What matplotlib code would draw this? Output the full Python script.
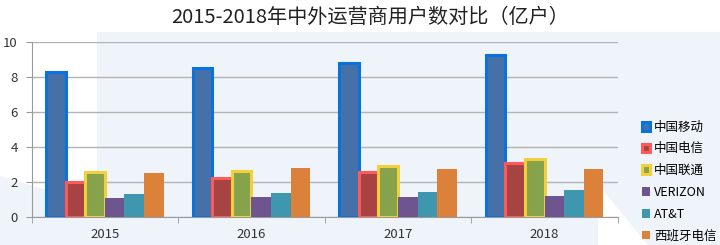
import matplotlib.pyplot as plt
import matplotlib.patches as mpatches
import matplotlib.ticker as mticker
import numpy as np

plt.rcParams['font.family'] = ['Noto Sans CJK SC', 'DejaVu Sans']

years = ['2015', '2016', '2017', '2018']
carriers = ['中国移动', '中国电信', '中国联通', 'VERIZON', 'AT&T', '西班牙电信']
cmcc = [8.3, 8.55, 8.8, 9.25]
ctel = [2.0, 2.23, 2.56, 3.1]
cuni = [2.58, 2.65, 2.9, 3.3]
verizon = [1.1, 1.15, 1.15, 1.16]
att = [1.3, 1.36, 1.42, 1.51]
telefonica = [2.48, 2.77, 2.71, 2.71]

series = [cmcc, ctel, cuni, verizon, att, telefonica]
faces = ['#4571a8', '#a84343', '#86a24a', '#6f5590', '#3e97ae', '#db8139']
edges = ['#0a72dc', '#ff5a5a', '#f2d03c', '#6f5590', '#3e97ae', '#db8139']
lws = [2.2, 2.2, 2.2, 0, 0, 0]

fig = plt.figure(figsize=(7.2, 2.45), dpi=100)
fig.patch.set_facecolor('white')

# light decorative background
bg = [
    [[0.135, 0.0], [0.135, 0.87], [0.83, 0.87], [0.83, 0.0]],
    [[0.0, 0.28], [0.0, 0.0], [0.32, 0.0]],
    [[0.83, 0.87], [0.83, 0.25], [0.9, 0.0], [1.0, 0.0], [1.0, 0.87]],
]
for poly in bg:
    fig.patches.append(mpatches.Polygon(poly, closed=True, transform=fig.transFigure,
                                        facecolor='#eff4fa', edgecolor='none', zorder=-5))

ax = fig.add_axes([0.044, 0.1155, 0.814, 0.7115])
ax.set_facecolor('none')
ax.set_zorder(2)

x = np.arange(len(years))
w = 0.8 / 6
for i, vals in enumerate(series):
    ax.bar(x - 0.4 + w * (i + 0.5), vals, w, color=faces[i], edgecolor=edges[i],
           linewidth=lws[i], label=carriers[i], zorder=3)

ax.set_xlim(-0.5, 3.5)
ax.set_ylim(0, 10)
ax.set_yticks([0, 2, 4, 6, 8, 10])
ax.yaxis.grid(True, color='#b3b3b3', linewidth=1.0, zorder=0)
ax.set_axisbelow(True)

ax.set_xticks(x)
ax.set_xticklabels(years)
ax.xaxis.set_minor_locator(mticker.FixedLocator([-0.5, 0.5, 1.5, 2.5, 3.5]))
ax.tick_params(axis='x', which='major', length=0, pad=8, labelsize=9.5, labelcolor='#333333')
ax.tick_params(axis='x', which='minor', length=4, color='#9a9a9a', direction='out')
ax.tick_params(axis='y', length=4, color='#9a9a9a', labelsize=9.5, labelcolor='#333333', pad=6)
for lbl in ax.get_xticklabels() + ax.get_yticklabels():
    lbl.set_fontweight('medium')

for s in ['top', 'right']:
    ax.spines[s].set_visible(False)
for s in ['left', 'bottom']:
    ax.spines[s].set_color('#9a9a9a')

fig.text(0.514, 0.928, '2015-2018年中外运营商用户数对比（亿户）', ha='center', va='center',
         fontsize=14.5, color='#222222')

leg = ax.legend(loc='upper left', bbox_to_anchor=(1.032, 0.58), frameon=False,
                prop={'size': 9, 'weight': 'medium'}, handlelength=0.7, handleheight=0.7,
                handletextpad=0.3, labelspacing=0.7, borderaxespad=0)

plt.savefig('out.png', dpi=100)
